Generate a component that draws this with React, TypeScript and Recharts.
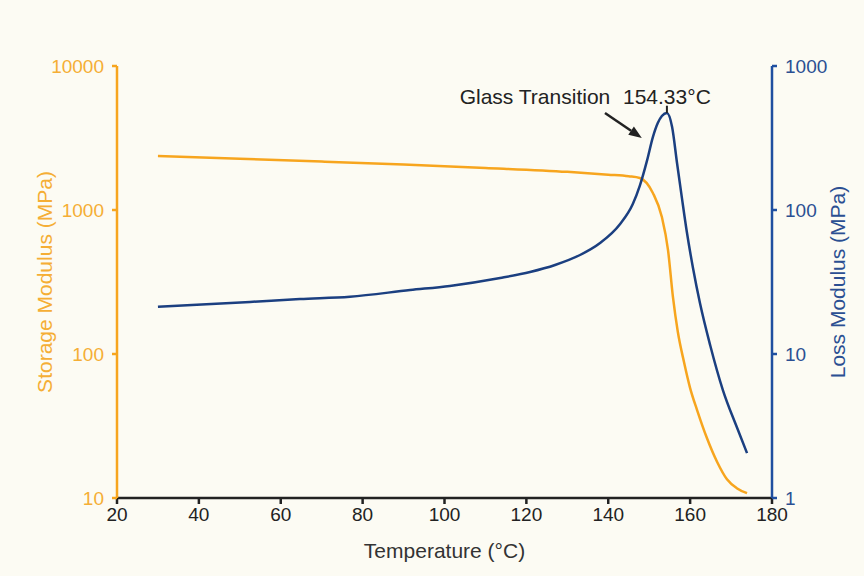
import { Line, LineChart, ReferenceDot, ReferenceLine, XAxis, YAxis } from "recharts"

const storageTemps = [30, 50, 70, 90, 110, 130, 140, 145, 147.7, 150.9, 153.1, 154.6, 155.8, 157, 158.5, 160, 161.7, 164.1, 166.6, 169, 171.4, 173.9]
const storageValues = [2370, 2270, 2170, 2070, 1960, 1840, 1760, 1715, 1668, 1313, 893, 527, 249, 142, 88, 58, 40.8, 26.1, 17.8, 13.5, 11.7, 10.8]

const lossTemps = [30, 52.5, 64.7, 76.9, 91.6, 101.3, 113.6, 120.9, 127, 133.1, 138, 142.9, 146, 147.7, 149.5, 150.9, 152.1, 153.1, 154.33, 155.6, 156.8, 158, 159.2, 160.7, 162.4, 164.9, 168, 171.4, 173.9]
const lossValues = [21.3, 23, 24.1, 25, 27.8, 29.7, 33.7, 37.1, 41.5, 48.7, 59, 80, 110, 147, 222, 321, 402, 450, 472, 377, 212, 121, 70.3, 39.6, 22.6, 11.5, 5.62, 3.11, 2.05]

const tempTicks = [20, 40, 60, 80, 100, 120, 140, 160, 180]
const storageTicks = [10, 100, 1000, 10000]
const lossTicks = [1, 10, 100, 1000]

const storageData = storageTemps.map((t, i) => ({ temp: t, storage: storageValues[i] }))
const lossData = lossTemps.map((t, i) => ({ temp: t, loss: lossValues[i] }))

const FONT = "'Liberation Sans', Arial, sans-serif"
const ORANGE = "#F7A51E"
const ORANGE_TEXT = "#F5AE35"
const BLUE = "#1B3F80"
const BLUE_AXIS = "#1F4FA0"
const BLUE_TEXT = "#2B4F92"

const Arrow = (props: any) => {
  const { x1, y1, x2, y2 } = props
  const ang = Math.atan2(y2 - y1, x2 - x1)
  const len = 13
  const w = 5
  const bx = x2 - len * Math.cos(ang)
  const by = y2 - len * Math.sin(ang)
  const px = -Math.sin(ang) * w
  const py = Math.cos(ang) * w
  return (
    <g>
      <line x1={x1} y1={y1} x2={bx} y2={by} stroke="#222" strokeWidth={2.5} />
      <polygon points={`${x2},${y2} ${bx + px},${by + py} ${bx - px},${by - py}`} fill="#222" />
    </g>
  )
}

export default function App() {
  return (
    <div style={{ position: "absolute", left: 0, top: 0, width: 864, height: 576, background: "#FCFBF3" }}>
      <LineChart width={864} height={576} margin={{ top: 66, right: 32, bottom: 48, left: 57 }}>
        <XAxis
          type="number"
          dataKey="temp"
          domain={[20, 180]}
          ticks={tempTicks}
          allowDuplicatedCategory={false}
          height={30}
          stroke="#222"
          strokeWidth={2.5}
          tickSize={6}
          tickMargin={4}
          tick={{ fill: "#222", fontSize: 19, fontFamily: FONT }}
          label={{ value: "Temperature (°C)", position: "insideBottom", offset: -30, fill: "#333", fontSize: 21, fontFamily: FONT }}
        />
        <YAxis
          yAxisId="left"
          scale="log"
          domain={[10, 10000]}
          ticks={storageTicks}
          allowDataOverflow
          width={60}
          stroke={ORANGE}
          strokeWidth={2.5}
          tickSize={5}
          tickMargin={8}
          tick={{ fill: ORANGE_TEXT, fontSize: 19, fontFamily: FONT }}
          label={{ value: "Storage Modulus (MPa)", angle: -90, position: "insideLeft", offset: -12, style: { textAnchor: "middle" }, fill: ORANGE_TEXT, fontSize: 21, fontFamily: FONT }}
        />
        <YAxis
          yAxisId="right"
          orientation="right"
          scale="log"
          domain={[1, 1000]}
          ticks={lossTicks}
          allowDataOverflow
          width={60}
          stroke={BLUE_AXIS}
          strokeWidth={2.5}
          tickSize={5}
          tickMargin={8}
          tick={{ fill: BLUE_TEXT, fontSize: 19, fontFamily: FONT }}
          label={{ value: "Loss Modulus (MPa)", angle: -90, position: "insideRight", offset: -6, style: { textAnchor: "middle" }, fill: BLUE_TEXT, fontSize: 21, fontFamily: FONT }}
        />
        <Line
          yAxisId="left"
          data={storageData}
          dataKey="storage"
          type="monotone"
          stroke={ORANGE}
          strokeWidth={2.5}
          dot={false}
          isAnimationActive={false}
        />
        <Line
          yAxisId="right"
          data={lossData}
          dataKey="loss"
          type="monotone"
          stroke={BLUE}
          strokeWidth={2.5}
          dot={false}
          isAnimationActive={false}
        />
        <ReferenceLine
          yAxisId="right"
          segment={[{ x: 154.33, y: 472 }, { x: 154.33, y: 530 }]}
          stroke="#222"
          strokeWidth={2}
        />
        <ReferenceLine
          yAxisId="right"
          segment={[{ x: 139.2, y: 472 }, { x: 148.2, y: 316 }]}
          shape={Arrow}
        />
        <ReferenceDot
          yAxisId="right"
          x={122.1}
          y={609}
          r={0}
          fill="none"
          stroke="none"
          label={{ value: "Glass Transition", position: "center", fill: "#222", fontSize: 21, fontFamily: FONT }}
        />
        <ReferenceDot
          yAxisId="right"
          x={154.33}
          y={609}
          r={0}
          fill="none"
          stroke="none"
          label={{ value: "154.33°C", position: "center", fill: "#222", fontSize: 21, fontFamily: FONT }}
        />
      </LineChart>
    </div>
  )
}
